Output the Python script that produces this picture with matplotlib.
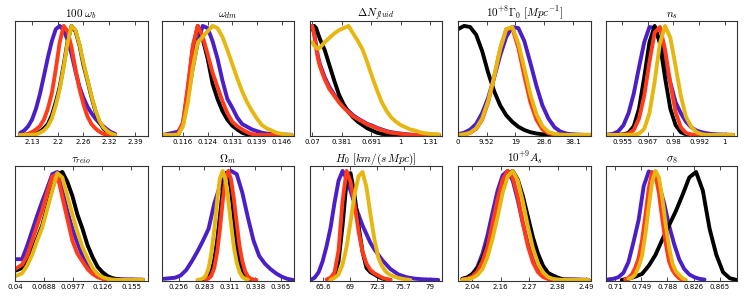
import matplotlib
matplotlib.use('Agg')
import matplotlib.pyplot as plt

plt.rcParams['mathtext.fontset'] = 'cm'

# ---- panel 1: 100 omega_b
wb_x = [2.10, 2.11, 2.12, 2.13, 2.14, 2.15, 2.16, 2.17, 2.18, 2.19, 2.20, 2.21, 2.22,
        2.23, 2.24, 2.25, 2.26, 2.27, 2.28, 2.29, 2.30, 2.31, 2.32, 2.33, 2.34]
wb_purple = [0.018, 0.04, 0.078, 0.14, 0.24, 0.375, 0.54, 0.71, 0.86, 0.97, 1.0, 0.96, 0.87,
             0.74, 0.58, 0.44, 0.34, 0.26, 0.2, 0.15, 0.11, 0.08, 0.05, 0.025, 0.01]
wb_red = [0, 0.003, 0.01, 0.025, 0.05, 0.08, 0.14, 0.24, 0.38, 0.6, 0.85, 1.0, 0.95,
          0.8, 0.6, 0.42, 0.28, 0.17, 0.1, 0.06, 0.03, 0.01, 0.003, 0, 0]
wb_black = [0, 0, 0, 0, 0.01, 0.03, 0.06, 0.1, 0.18, 0.3, 0.44, 0.64, 0.86,
            1.0, 0.95, 0.82, 0.64, 0.5, 0.35, 0.22, 0.12, 0.06, 0.025, 0.008, 0]
wb_gold = [0, 0, 0, 0, 0.005, 0.02, 0.04, 0.08, 0.15, 0.27, 0.42, 0.62, 0.85,
           1.0, 0.96, 0.83, 0.66, 0.51, 0.36, 0.23, 0.13, 0.07, 0.035, 0.012, 0]

# ---- panel 2: omega_dm
wdm_x = [0.1100, 0.1115, 0.1130, 0.1145, 0.1160, 0.1175, 0.1190, 0.1205, 0.1220, 0.1235,
         0.1250, 0.1265, 0.1280, 0.1295, 0.1310, 0.1325, 0.1340, 0.1355, 0.1370, 0.1385,
         0.1400, 0.1415, 0.1430, 0.1445, 0.1460, 0.1475, 0.1490]
wdm_purple = [0.0, 0.01, 0.02, 0.03, 0.1, 0.35, 0.62, 0.85, 1.0, 0.98,
              0.86, 0.7, 0.5, 0.33, 0.25, 0.16, 0.1, 0.075, 0.05, 0.035,
              0.02, 0.012, 0.008, 0.005, 0.003, 0.002, 0.0]
wdm_black = [0, 0, 0, 0, 0.1, 0.42, 0.8, 1.0, 0.88, 0.7,
             0.47, 0.33, 0.22, 0.14, 0.085, 0.05, 0.02, 0.005, 0, 0,
             0, 0, 0, 0, 0, 0, 0]
wdm_red = [0, 0, 0, 0.01, 0.12, 0.45, 0.82, 1.0, 0.9, 0.74,
           0.57, 0.44, 0.31, 0.2, 0.12, 0.08, 0.05, 0.025, 0.008, 0,
           0, 0, 0, 0, 0, 0, 0]
wdm_gold = [0, 0, 0, 0.0, 0.08, 0.3, 0.62, 0.85, 0.9, 0.95,
            1.0, 0.98, 0.9, 0.78, 0.65, 0.52, 0.4, 0.3, 0.22, 0.15,
            0.09, 0.06, 0.04, 0.02, 0.01, 0.0, 0]

# ---- panel 3: Delta N_fluid
dn_x = [0.07, 0.09, 0.11, 0.13, 0.15, 0.2, 0.25, 0.3, 0.35, 0.4, 0.45, 0.5, 0.55, 0.6, 0.65,
        0.7, 0.75, 0.8, 0.85, 0.9, 0.95, 1.0, 1.05, 1.1, 1.15, 1.2, 1.25, 1.3, 1.35, 1.4]
dn_black = [0.97, 1.0, 0.98, 0.93, 0.88, 0.78, 0.64, 0.5, 0.37, 0.28, 0.21, 0.16, 0.12, 0.09, 0.06,
            0.04, 0.02, 0.01, 0.0, 0, 0, 0, 0, 0, 0, 0, 0, 0, 0, 0]
dn_red = [1.0, 0.92, 0.8, 0.7, 0.63, 0.51, 0.42, 0.36, 0.3, 0.25, 0.21, 0.17, 0.145, 0.12, 0.095,
          0.08, 0.06, 0.045, 0.03, 0.02, 0.015, 0.01, 0.005, 0.0, 0, 0, 0, 0, 0, 0]
dn_purple = [1.0, 0.93, 0.82, 0.72, 0.65, 0.53, 0.44, 0.37, 0.31, 0.26, 0.22, 0.18, 0.15, 0.125, 0.1,
             0.085, 0.065, 0.05, 0.035, 0.025, 0.018, 0.012, 0.007, 0.003, 0, 0, 0, 0, 0, 0]
dn_gold = [0.85, 0.82, 0.8, 0.79, 0.8, 0.85, 0.89, 0.93, 0.96, 0.98, 1.0, 0.93, 0.86, 0.78, 0.66,
           0.53, 0.41, 0.3, 0.22, 0.16, 0.12, 0.09, 0.07, 0.05, 0.04, 0.025, 0.015, 0.01, 0.007, 0.004]

# ---- panel 4: Gamma_0
g0_x = [0, 2, 4, 6, 8, 10, 12, 14, 16, 18, 20, 22, 24, 26, 28, 30, 32, 34, 36, 38, 40, 42, 44]
g0_black = [0.97, 1.0, 0.99, 0.92, 0.77, 0.57, 0.4, 0.27, 0.18, 0.12, 0.075, 0.045, 0.025,
            0.013, 0.006, 0.002, 0, 0, 0, 0, 0, 0, 0]
g0_gold = [0, 0.005, 0.02, 0.06, 0.15, 0.31, 0.54, 0.79, 0.97, 0.99, 0.84, 0.61, 0.37,
           0.19, 0.08, 0.028, 0.009, 0.003, 0, 0, 0, 0, 0]
g0_red = [0, 0.004, 0.018, 0.055, 0.14, 0.3, 0.53, 0.79, 0.97, 0.98, 0.8, 0.54, 0.3,
          0.14, 0.05, 0.015, 0.004, 0, 0, 0, 0, 0, 0]
g0_purple = [0.007, 0.02, 0.048, 0.1, 0.2, 0.34, 0.53, 0.73, 0.9, 0.99, 0.98, 0.86, 0.66,
             0.45, 0.27, 0.15, 0.07, 0.03, 0.012, 0.005, 0.002, 0, 0]

# ---- panel 5: n_s
ns_x = [0.948, 0.9505, 0.953, 0.9555, 0.958, 0.9605, 0.963, 0.9655, 0.968, 0.9705, 0.973,
        0.9755, 0.978, 0.9805, 0.983, 0.9855, 0.988, 0.9905, 0.993, 0.9955, 0.998, 1.0005,
        1.003, 1.0055, 1.008]
ns_purple = [0.003, 0.01, 0.032, 0.087, 0.2, 0.38, 0.62, 0.85, 0.99, 0.98, 0.86,
             0.68, 0.48, 0.3, 0.2, 0.12, 0.07, 0.04, 0.025, 0.015, 0.008, 0.005,
             0.003, 0.001, 0]
ns_black = [0, 0, 0.0005, 0.004, 0.02, 0.08, 0.24, 0.53, 0.85, 1.0, 0.84,
            0.52, 0.24, 0.09, 0.025, 0.005, 0, 0, 0, 0, 0, 0, 0, 0, 0]
ns_red = [0, 0, 0, 0.002, 0.011, 0.045, 0.15, 0.36, 0.67, 0.94, 0.99,
          0.78, 0.47, 0.21, 0.07, 0.018, 0.004, 0, 0, 0, 0, 0, 0, 0, 0]
ns_gold = [0, 0, 0, 0, 0, 0.002, 0.011, 0.055, 0.2, 0.49, 0.84,
           1.0, 0.89, 0.63, 0.36, 0.165, 0.075, 0.025, 0.007, 0, 0, 0, 0, 0, 0]

# ---- panel 6: tau_reio
tau_x = [0.040, 0.042, 0.047, 0.052, 0.057, 0.062, 0.067, 0.072, 0.077, 0.082, 0.087, 0.092,
         0.097, 0.102, 0.107, 0.112, 0.117, 0.122, 0.127, 0.132, 0.137, 0.142, 0.147, 0.152,
         0.157, 0.162, 0.167]
tau_purple = [0.19, 0.19, 0.19, 0.31, 0.45, 0.59, 0.72, 0.84, 0.97, 0.99, 0.82, 0.63,
              0.47, 0.34, 0.22, 0.13, 0.08, 0.05, 0.03, 0.018, 0.012, 0.008, 0.006, 0.005,
              0.004, 0.003, 0.002]
tau_red = [0.1, 0.11, 0.14, 0.22, 0.36, 0.5, 0.64, 0.8, 0.95, 0.97, 0.76, 0.56,
           0.36, 0.24, 0.17, 0.1, 0.055, 0.025, 0.01, 0.003, 0, 0, 0, 0, 0, 0, 0]
tau_black = [0.085, 0.09, 0.11, 0.17, 0.27, 0.38, 0.5, 0.67, 0.84, 0.97, 0.99, 0.9,
             0.77, 0.6, 0.47, 0.32, 0.21, 0.12, 0.07, 0.035, 0.015, 0.005, 0, 0, 0, 0, 0]
tau_gold = [0.035, 0.04, 0.06, 0.13, 0.23, 0.36, 0.48, 0.65, 0.82, 0.98, 0.94, 0.77,
            0.6, 0.44, 0.3, 0.2, 0.11, 0.055, 0.025, 0.01, 0.003, 0, 0, 0, 0, 0, 0]

# ---- panel 7: Omega_m
om_black_x = [0.282, 0.285, 0.288, 0.291, 0.294, 0.297, 0.300, 0.303, 0.306, 0.309,
              0.312, 0.315, 0.318, 0.321, 0.324, 0.327, 0.330, 0.333]
om_black = [0.002, 0.008, 0.027, 0.075, 0.18, 0.35, 0.58, 0.82, 0.98, 0.98,
            0.82, 0.57, 0.33, 0.16, 0.065, 0.021, 0.006, 0.001]
om_red_x = [0.285, 0.288, 0.291, 0.294, 0.297, 0.300, 0.303, 0.306, 0.309, 0.312,
            0.315, 0.318, 0.321, 0.324, 0.327, 0.330, 0.333, 0.336, 0.339]
om_red = [0.003, 0.013, 0.04, 0.11, 0.25, 0.46, 0.72, 0.93, 1.0, 0.92,
          0.74, 0.52, 0.31, 0.17, 0.078, 0.032, 0.011, 0.003, 0.0]
om_gold_x = [0.276, 0.279, 0.282, 0.285, 0.288, 0.291, 0.294, 0.297, 0.300, 0.303,
             0.306, 0.309, 0.312, 0.315, 0.318, 0.321, 0.324, 0.327, 0.330]
om_gold = [0.001, 0.003, 0.013, 0.04, 0.11, 0.25, 0.46, 0.72, 0.93, 1.0,
           0.92, 0.73, 0.51, 0.3, 0.16, 0.073, 0.029, 0.01, 0.002]
om_purple_x = [0.240, 0.246, 0.252, 0.258, 0.264, 0.270, 0.276, 0.282, 0.288, 0.294, 0.300,
               0.306, 0.312, 0.318, 0.324, 0.330, 0.336, 0.342, 0.348, 0.354, 0.360,
               0.366, 0.372, 0.378]
om_purple = [0.01, 0.015, 0.02, 0.04, 0.09, 0.17, 0.26, 0.36, 0.47, 0.7, 0.86,
             0.96, 1.0, 0.97, 0.8, 0.57, 0.36, 0.22, 0.15, 0.1, 0.06,
             0.03, 0.01, 0.0]

# ---- panel 8: H0
h0_black_x = [66.5, 67.0, 67.5, 68.0, 68.5, 69.0, 69.5, 70.0, 70.5, 71.0, 71.5, 72.0,
              72.5, 73.0, 73.5, 74.0]
h0_black = [0.01, 0.05, 0.17, 0.5, 0.9, 0.98, 0.78, 0.5, 0.26, 0.11, 0.07, 0.05,
            0.028, 0.012, 0.004, 0.0]
h0_red_x = [66.0, 66.5, 67.0, 67.5, 68.0, 68.5, 69.0, 69.5, 70.0, 70.5, 71.0, 71.5,
            72.0, 72.5, 73.0, 73.5, 74.0]
h0_red = [0.005, 0.02, 0.07, 0.27, 0.72, 1.0, 0.9, 0.7, 0.45, 0.26, 0.15, 0.09,
          0.06, 0.04, 0.02, 0.008, 0.0]
h0_purple_x = [64.0, 64.5, 65.0, 65.5, 66.0, 66.5, 67.0, 67.5, 68.0, 68.5, 69.0, 69.5,
               70.0, 70.5, 71.0, 71.5, 72.0, 73.0, 74.0, 75.0, 76.0, 77.0, 78.0, 79.0, 80.0]
h0_purple = [0.0, 0.02, 0.07, 0.17, 0.31, 0.48, 0.71, 0.91, 1.0, 0.93, 0.82, 0.7,
             0.6, 0.5, 0.42, 0.34, 0.28, 0.18, 0.1, 0.05, 0.025, 0.012, 0.006, 0.003, 0.0]
h0_gold_x = [66.5, 67.0, 67.5, 68.0, 68.5, 69.0, 69.5, 70.0, 70.5, 71.0, 71.5, 72.0,
             72.5, 73.0, 73.5, 74.0, 74.5, 75.0, 75.5, 76.0, 76.5]
h0_gold = [0.0, 0.02, 0.05, 0.14, 0.3, 0.53, 0.78, 0.95, 0.99, 0.85, 0.6, 0.37,
           0.2, 0.12, 0.07, 0.045, 0.03, 0.018, 0.01, 0.004, 0.0]

# ---- panel 9: 10^9 A_s
as_x = [2.00, 2.02, 2.04, 2.06, 2.08, 2.10, 2.12, 2.14, 2.16, 2.18, 2.20, 2.22, 2.24,
        2.26, 2.28, 2.30, 2.32, 2.34, 2.36, 2.38, 2.40, 2.42, 2.44, 2.46, 2.48, 2.50]
as_black = [0.01, 0.024, 0.053, 0.108, 0.2, 0.33, 0.5, 0.69, 0.86, 0.97, 1.0, 0.92, 0.77,
            0.58, 0.39, 0.24, 0.13, 0.065, 0.04, 0.02, 0.005, 0.002, 0, 0, 0, 0]
as_purple = [0.008, 0.02, 0.055, 0.12, 0.24, 0.41, 0.62, 0.82, 0.96, 1.0, 0.91, 0.73, 0.52,
             0.33, 0.18, 0.09, 0.05, 0.025, 0.01, 0.003, 0.002, 0.005, 0.006, 0.004, 0.002, 0]
as_red = [0.003, 0.011, 0.032, 0.078, 0.17, 0.31, 0.52, 0.74, 0.92, 1.0, 0.94, 0.76, 0.52,
          0.31, 0.16, 0.07, 0.026, 0.008, 0.002, 0, 0, 0, 0, 0, 0, 0]
as_gold = [0.002, 0.006, 0.017, 0.045, 0.1, 0.21, 0.38, 0.58, 0.8, 0.95, 1.0, 0.91, 0.72,
           0.49, 0.29, 0.15, 0.068, 0.026, 0.009, 0.003, 0, 0, 0, 0, 0, 0]

# ---- panel 10: sigma_8
s8_black_x = [0.72, 0.73, 0.74, 0.75, 0.76, 0.77, 0.78, 0.79, 0.80, 0.81, 0.82, 0.83,
              0.84, 0.85, 0.86, 0.87, 0.88, 0.89]
s8_black = [0.0, 0.01, 0.03, 0.055, 0.13, 0.23, 0.37, 0.5, 0.63, 0.78, 0.94, 0.99,
            0.82, 0.47, 0.23, 0.07, 0.015, 0.0]
s8_purple_x = [0.700, 0.7075, 0.715, 0.7225, 0.730, 0.7375, 0.745, 0.7525, 0.760, 0.7675,
               0.775, 0.7825, 0.790, 0.7975, 0.805, 0.8125, 0.820, 0.8275, 0.835, 0.8425]
s8_purple = [0.005, 0.01, 0.025, 0.065, 0.165, 0.35, 0.55, 0.86, 0.995, 0.97,
             0.87, 0.71, 0.5, 0.33, 0.19, 0.1, 0.05, 0.025, 0.01, 0.003]
s8_red_x = [0.725, 0.730, 0.735, 0.740, 0.745, 0.750, 0.755, 0.760, 0.765, 0.770,
            0.775, 0.780, 0.785, 0.790, 0.795, 0.800, 0.805, 0.810]
s8_red = [0.004, 0.02, 0.05, 0.11, 0.2, 0.36, 0.59, 0.84, 0.99, 0.96,
          0.8, 0.56, 0.34, 0.17, 0.09, 0.045, 0.015, 0.0]
s8_gold_x = [0.730, 0.735, 0.740, 0.745, 0.750, 0.755, 0.760, 0.765, 0.770, 0.775,
             0.780, 0.785, 0.790, 0.795, 0.800, 0.805, 0.810, 0.815]
s8_gold = [0.01, 0.02, 0.05, 0.12, 0.22, 0.42, 0.67, 0.9, 1.0, 0.94,
           0.75, 0.51, 0.3, 0.15, 0.08, 0.045, 0.015, 0.0]

titles = [r'$100\ \omega_b$', r'$\omega_{dm}$', r'$\Delta N_{fluid}$',
          r'$10^{+8}\Gamma_0\ [Mpc^{-1}]$', r'$n_s$',
          r'$\tau_{reio}$', r'$\Omega_m$', r'$H_0\ [km/(s\,Mpc)]$',
          r'$10^{+9}A_s$', r'$\sigma_8$']
xlims = [(2.087, 2.423), (0.1096, 0.1498), (0.046, 1.433), (0.0, 44.1), (0.9472, 1.0099),
         (0.04, 0.1721), (0.2382, 0.3792), (63.92, 80.47), (1.983, 2.51), (0.6967, 0.8906)]
ticks = [[2.13, 2.195, 2.26, 2.325, 2.39],
         [0.116, 0.1235, 0.131, 0.1385, 0.146],
         [0.07, 0.38, 0.69, 1.0, 1.31],
         [0, 9.52, 19.04, 28.56, 38.08],
         [0.955, 0.96725, 0.9795, 0.99175, 1.004],
         [0.04, 0.06888, 0.09775, 0.12663, 0.1555],
         [0.256, 0.28325, 0.3105, 0.33775, 0.365],
         [65.6, 68.95, 72.3, 75.65, 79.0],
         [2.04, 2.1525, 2.265, 2.3775, 2.49],
         [0.71, 0.74875, 0.7875, 0.82625, 0.865]]
tick_labels = [['2.13', '2.2', '2.26', '2.32', '2.39'],
               ['0.116', '0.124', '0.131', '0.139', '0.146'],
               ['0.07', '0.381', '0.691', '1', '1.31'],
               ['0', '9.52', '19', '28.6', '38.1'],
               ['0.955', '0.967', '0.98', '0.992', '1'],
               ['0.04', '0.0688', '0.0977', '0.126', '0.155'],
               ['0.256', '0.283', '0.311', '0.338', '0.365'],
               ['65.6', '69', '72.3', '75.7', '79'],
               ['2.04', '2.16', '2.27', '2.38', '2.49'],
               ['0.71', '0.749', '0.788', '0.826', '0.865']]

# curves per panel, drawn in this order: purple, black, red, gold
curves = [
    [(wb_x, wb_purple), (wb_x, wb_black), (wb_x, wb_red), (wb_x, wb_gold)],
    [(wdm_x, wdm_purple), (wdm_x, wdm_black), (wdm_x, wdm_red), (wdm_x, wdm_gold)],
    [(dn_x, dn_purple), (dn_x, dn_black), (dn_x, dn_red), (dn_x, dn_gold)],
    [(g0_x, g0_purple), (g0_x, g0_black), (g0_x, g0_red), (g0_x, g0_gold)],
    [(ns_x, ns_purple), (ns_x, ns_black), (ns_x, ns_red), (ns_x, ns_gold)],
    [(tau_x, tau_purple), (tau_x, tau_black), (tau_x, tau_red), (tau_x, tau_gold)],
    [(om_purple_x, om_purple), (om_black_x, om_black), (om_red_x, om_red), (om_gold_x, om_gold)],
    [(h0_purple_x, h0_purple), (h0_black_x, h0_black), (h0_red_x, h0_red), (h0_gold_x, h0_gold)],
    [(as_x, as_purple), (as_x, as_black), (as_x, as_red), (as_x, as_gold)],
    [(s8_purple_x, s8_purple), (s8_black_x, s8_black), (s8_red_x, s8_red), (s8_gold_x, s8_gold)],
]
colors = ['#4a1fc8', 'black', '#ff3b1a', '#e6b710']

fig = plt.figure(figsize=(7.47, 2.99), dpi=100)
col_left = [15, 162, 310, 458, 606]
col_width = [133, 132, 132, 133, 131]
row_top = [21, 166]
height = 115

for i in range(10):
    r, c = i // 5, i % 5
    ax = fig.add_axes([col_left[c] / 747, 1 - (row_top[r] + height) / 299,
                       col_width[c] / 747, height / 299])
    for (x, y), col in zip(curves[i], colors):
        ax.plot(x, y, color=col, lw=2.8, solid_joinstyle='round', solid_capstyle='round')
    ax.set_xlim(*xlims[i])
    ax.set_ylim(-0.01, 1.045)
    ax.set_yticks([])
    ax.set_xticks(ticks[i])
    ax.set_xticklabels(tick_labels[i], fontsize=5)
    ax.tick_params(axis='x', direction='in', top=True, length=3, width=0.5, pad=2)
    ax.set_title(titles[i], fontsize=8, pad=3)
    for s in ax.spines.values():
        s.set_linewidth(0.8)
        s.set_color('#333333')

fig.savefig('out.png', dpi=100)
